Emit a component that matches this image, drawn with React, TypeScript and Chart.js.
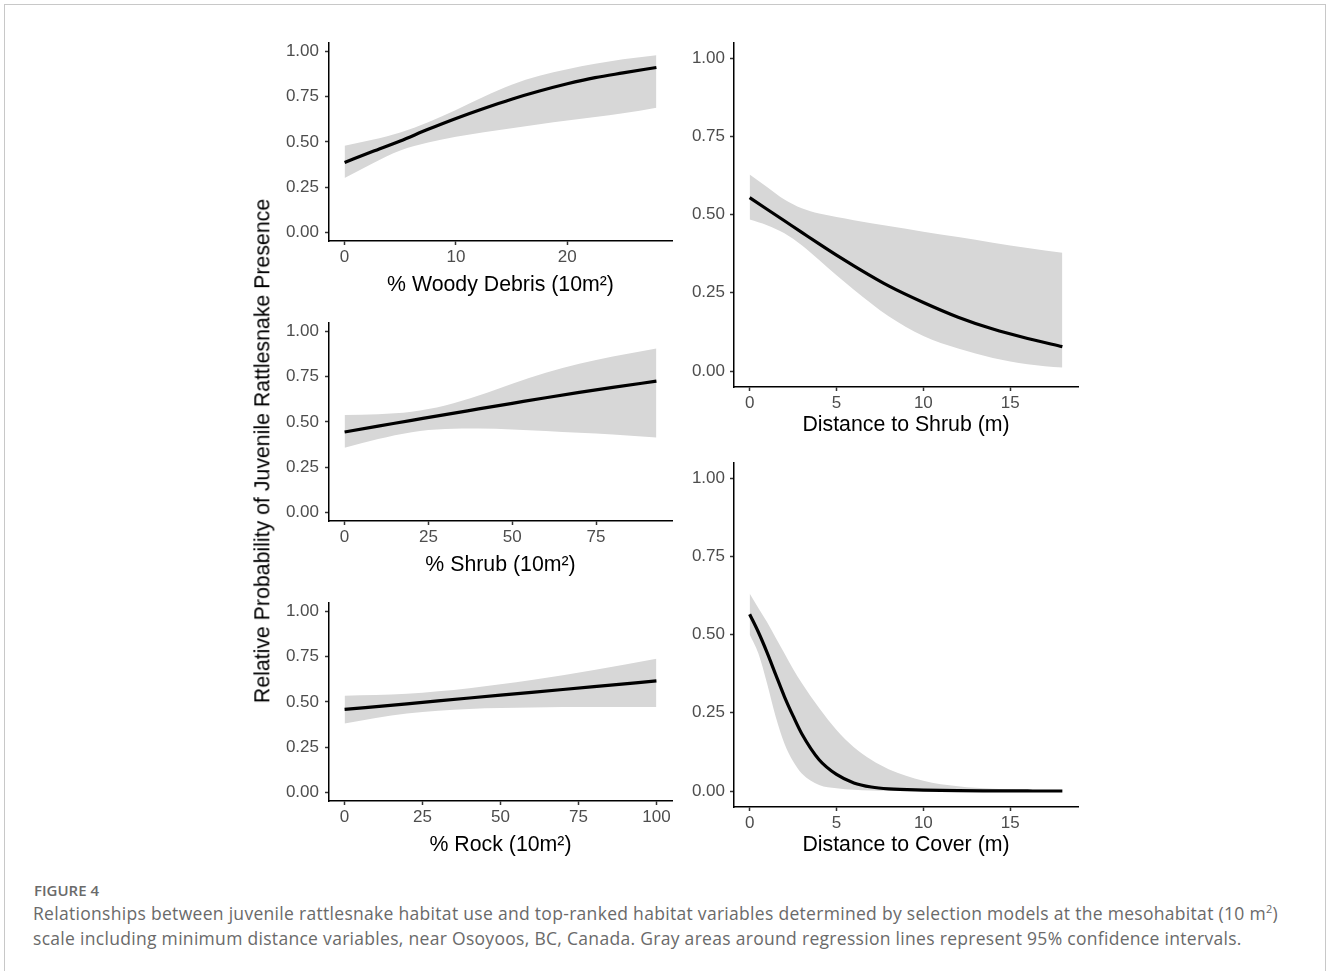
import React, { useEffect, useRef } from 'react';
import { Chart, registerables } from 'chart.js';

Chart.register(...registerables);

const FONT = "'Liberation Sans', Arial, Helvetica, sans-serif";

// ---------- data ----------
const yTickValues = [0, 0.25, 0.5, 0.75, 1];

const woodyTicks = [0, 10, 20];
const woodyX = [0, 2.5, 5, 7.5, 10, 12.5, 15, 17.5, 20, 22.5, 25, 28];
const woodyFit = [0.386, 0.446, 0.505, 0.569, 0.629, 0.684, 0.735, 0.78, 0.82, 0.854, 0.88, 0.91];
const woodyUpper = [0.478, 0.511, 0.552, 0.608, 0.676, 0.749, 0.815, 0.864, 0.9, 0.93, 0.956, 0.978];
const woodyLower = [0.3, 0.38, 0.452, 0.496, 0.528, 0.553, 0.575, 0.597, 0.617, 0.637, 0.657, 0.688];

const shrubTicks = [0, 25, 50, 75];
const shrubX = [0, 10, 20, 30, 40, 50, 60, 70, 80, 93];
const shrubFit = [0.444, 0.476, 0.508, 0.54, 0.571, 0.602, 0.633, 0.662, 0.69, 0.724];
const shrubUpper = [0.538, 0.542, 0.556, 0.59, 0.645, 0.71, 0.77, 0.82, 0.86, 0.904];
const shrubLower = [0.357, 0.405, 0.443, 0.46, 0.463, 0.458, 0.45, 0.44, 0.43, 0.413];

const rockTicks = [0, 25, 50, 75, 100];
const rockX = [0, 20, 40, 60, 80, 100];
const rockFit = [0.458, 0.489, 0.521, 0.552, 0.584, 0.615];
const rockUpper = [0.534, 0.545, 0.575, 0.62, 0.675, 0.737];
const rockLower = [0.381, 0.435, 0.461, 0.469, 0.471, 0.471];

const distTicks = [0, 5, 10, 15];
const distShrubX = [0, 1, 2, 3, 4, 5, 6, 8, 10, 12, 14, 16, 18];
const distShrubFit = [0.554, 0.517, 0.48, 0.443, 0.406, 0.37, 0.336, 0.272, 0.219, 0.172, 0.134, 0.104, 0.078];
const distShrubUpper = [0.628, 0.588, 0.548, 0.52, 0.503, 0.492, 0.482, 0.463, 0.445, 0.428, 0.41, 0.393, 0.378];
const distShrubLower = [0.484, 0.466, 0.44, 0.402, 0.355, 0.306, 0.26, 0.175, 0.112, 0.072, 0.042, 0.022, 0.011];

const distCoverX = [0, 0.5, 1, 1.5, 2, 2.5, 3, 4, 5, 6, 7, 8, 10, 12, 14, 16, 18];
const distCoverFit = [0.565, 0.508, 0.443, 0.372, 0.302, 0.24, 0.183, 0.1, 0.053, 0.026, 0.013, 0.007, 0.003, 0.001, 0.0005, 0.0002, 0.0001];
const distCoverUpper = [0.631, 0.585, 0.54, 0.49, 0.44, 0.39, 0.345, 0.265, 0.195, 0.14, 0.1, 0.07, 0.033, 0.015, 0.007, 0.003, 0.002];
const distCoverLower = [0.5, 0.44, 0.344, 0.237, 0.152, 0.095, 0.056, 0.019, 0.009, 0.004, 0.002, 0.001, 0, 0, 0, 0, 0];

const yAxisTitle = 'Relative Probability of Juvenile Rattlesnake Presence';
const captionLabel = 'FIGURE 4';

// ---------- panels ----------
type Area = { left: number; top: number; right: number; bottom: number };
type PanelSpec = {
  title: string;
  xs: number[];
  fit: number[];
  upper: number[];
  lower: number[];
  xTicks: number[];
  xMin: number;
  xMax: number;
  yMin: number;
  yMax: number;
  area: Area;
  titleOffset: number;
  yLabelPad: number;
};

const YW = 60;
const XH = 60;
const PT = 20;
const PR = 10;
const TICK_FONT = 17;
const TITLE_FONT = 21.3;

const panels: PanelSpec[] = [
  {
    title: '% Woody Debris (10m²)', xs: woodyX, fit: woodyFit, upper: woodyUpper, lower: woodyLower,
    xTicks: woodyTicks, xMin: -1.4, xMax: 29.4, yMin: -0.047, yMax: 1.045,
    area: { left: 329, top: 43, right: 672, bottom: 241 }, titleOffset: 44.5, yLabelPad: 6,
  },
  {
    title: '% Shrub (10m²)', xs: shrubX, fit: shrubFit, upper: shrubUpper, lower: shrubLower,
    xTicks: shrubTicks, xMin: -4.65, xMax: 97.65, yMin: -0.047, yMax: 1.045,
    area: { left: 329, top: 323, right: 672, bottom: 521 }, titleOffset: 44.5, yLabelPad: 6,
  },
  {
    title: '% Rock (10m²)', xs: rockX, fit: rockFit, upper: rockUpper, lower: rockLower,
    xTicks: rockTicks, xMin: -5, xMax: 105, yMin: -0.047, yMax: 1.045,
    area: { left: 329, top: 603, right: 672, bottom: 801 }, titleOffset: 44.5, yLabelPad: 6,
  },
  {
    title: 'Distance to Shrub (m)', xs: distShrubX, fit: distShrubFit, upper: distShrubUpper, lower: distShrubLower,
    xTicks: distTicks, xMin: -0.9, xMax: 18.9, yMin: -0.051, yMax: 1.048,
    area: { left: 734, top: 43, right: 1078, bottom: 387 }, titleOffset: 37.7, yLabelPad: 5,
  },
  {
    title: 'Distance to Cover (m)', xs: distCoverX, fit: distCoverFit, upper: distCoverUpper, lower: distCoverLower,
    xTicks: distTicks, xMin: -0.9, xMax: 18.9, yMin: -0.051, yMax: 1.048,
    area: { left: 734, top: 463, right: 1078, bottom: 807 }, titleOffset: 37.7, yLabelPad: 5,
  },
];

const toPoints = (xs: number[], ys: number[]) => xs.map((x, i) => ({ x, y: ys[i] }));

function Panel({ spec }: { spec: PanelSpec }) {
  const ref = useRef<HTMLCanvasElement | null>(null);
  const { area } = spec;
  const width = YW + (area.right - area.left) + PR;
  const height = PT + (area.bottom - area.top) + XH;

  useEffect(() => {
    if (!ref.current) return;
    const titleLH = 1.2;
    const titlePadBottom = XH - spec.titleOffset - (TITLE_FONT * titleLH) / 2;
    const axisGrid = {
      display: true,
      drawOnChartArea: false,
      drawTicks: true,
      tickLength: 4,
      tickWidth: 1.5,
      tickColor: '#333333',
    };
    const chart = new Chart(ref.current, {
      type: 'line',
      data: {
        datasets: [
          {
            label: 'fit',
            data: toPoints(spec.xs, spec.fit),
            borderWidth: 3.2,
            borderColor: '#000000',
            pointRadius: 0,
            fill: false,
            cubicInterpolationMode: 'monotone',
            order: 0,
          },
          {
            label: 'lower',
            data: toPoints(spec.xs, spec.lower),
            borderWidth: 0,
            borderColor: 'rgba(0,0,0,0)',
            pointRadius: 0,
            fill: false,
            cubicInterpolationMode: 'monotone',
            order: 2,
          },
          {
            label: 'upper',
            data: toPoints(spec.xs, spec.upper),
            borderWidth: 0,
            borderColor: 'rgba(0,0,0,0)',
            backgroundColor: '#d7d7d7',
            pointRadius: 0,
            fill: '-1',
            cubicInterpolationMode: 'monotone',
            order: 1,
          },
        ],
      },
      options: {
        animation: false,
        responsive: false,
        devicePixelRatio: 1,
        layout: { padding: { top: PT, right: PR, left: 0, bottom: 0 } },
        plugins: {
          legend: { display: false },
          tooltip: { enabled: false },
          filler: { drawTime: 'beforeDatasetsDraw' },
        },
        scales: {
          x: {
            type: 'linear',
            min: spec.xMin,
            max: spec.xMax,
            afterBuildTicks: (s: any) => {
              s.ticks = spec.xTicks.map((v) => ({ value: v }));
            },
            afterFit: (s: any) => {
              s.height = XH;
            },
            grid: axisGrid,
            border: { display: true, color: '#000000', width: 1.5 },
            ticks: {
              padding: 2,
              color: '#4d4d4d',
              font: { family: FONT, size: TICK_FONT },
              maxRotation: 0,
              autoSkip: false,
              callback: (v: any) => String(v),
            },
            title: {
              display: true,
              text: spec.title,
              color: '#000000',
              font: { family: FONT, size: TITLE_FONT, lineHeight: titleLH },
              padding: { top: 0, bottom: titlePadBottom },
            },
          },
          y: {
            type: 'linear',
            min: spec.yMin,
            max: spec.yMax,
            afterBuildTicks: (s: any) => {
              s.ticks = yTickValues.map((v) => ({ value: v }));
            },
            afterFit: (s: any) => {
              s.width = YW;
            },
            grid: axisGrid,
            border: { display: true, color: '#000000', width: 1.5 },
            ticks: {
              padding: spec.yLabelPad,
              color: '#4d4d4d',
              font: { family: FONT, size: TICK_FONT },
              autoSkip: false,
              callback: (v: any) => Number(v).toFixed(2),
            },
          },
        },
      },
    } as any);
    return () => chart.destroy();
  }, [spec]);

  return (
    <canvas
      ref={ref}
      width={width}
      height={height}
      style={{
        position: 'absolute',
        left: area.left - YW,
        top: area.top - PT,
        width,
        height,
      }}
    />
  );
}

export default function App() {
  return (
    <div
      style={{
        position: 'absolute',
        left: 0,
        top: 0,
        width: 1328,
        height: 971,
        overflow: 'hidden',
        background: '#ffffff',
      }}
    >
      <div
        style={{
          position: 'absolute',
          left: 4,
          top: 4,
          width: 1322,
          height: 1100,
          border: '1px solid #c8c8c8',
          boxSizing: 'border-box',
        }}
      />
      {panels.map((p, i) => (
        <Panel key={i} spec={p} />
      ))}
      <div
        style={{
          position: 'absolute',
          left: 263,
          top: 451,
          transform: 'translate(-50%, -50%) rotate(-90deg)',
          whiteSpace: 'nowrap',
          fontFamily: FONT,
          fontSize: TITLE_FONT,
          lineHeight: 1,
          color: '#000000',
        }}
      >
        {yAxisTitle}
      </div>
      <div
        style={{
          position: 'absolute',
          left: 34,
          top: 880,
          fontFamily: "'Open Sans', sans-serif",
          fontWeight: 600,
          fontSize: 15,
          lineHeight: '20px',
          color: '#6a6a6a',
          whiteSpace: 'nowrap',
        }}
      >
        {captionLabel}
      </div>
      <div
        style={{
          position: 'absolute',
          left: 33,
          top: 900.5,
          fontFamily: "'Open Sans', sans-serif",
          fontSize: 17.5,
          letterSpacing: '0.3px',
          lineHeight: '25px',
          color: '#6a6a6a',
          whiteSpace: 'nowrap',
        }}
      >
        <div>
          Relationships between juvenile rattlesnake habitat use and top-ranked habitat variables determined by selection models at the mesohabitat (10 m
          <sup style={{ fontSize: 11, verticalAlign: 'super', lineHeight: 0 }}>2</sup>)
        </div>
        <div>
          scale including minimum distance variables, near Osoyoos, BC, Canada. Gray areas around regression lines represent 95% confidence intervals.
        </div>
      </div>
    </div>
  );
}
